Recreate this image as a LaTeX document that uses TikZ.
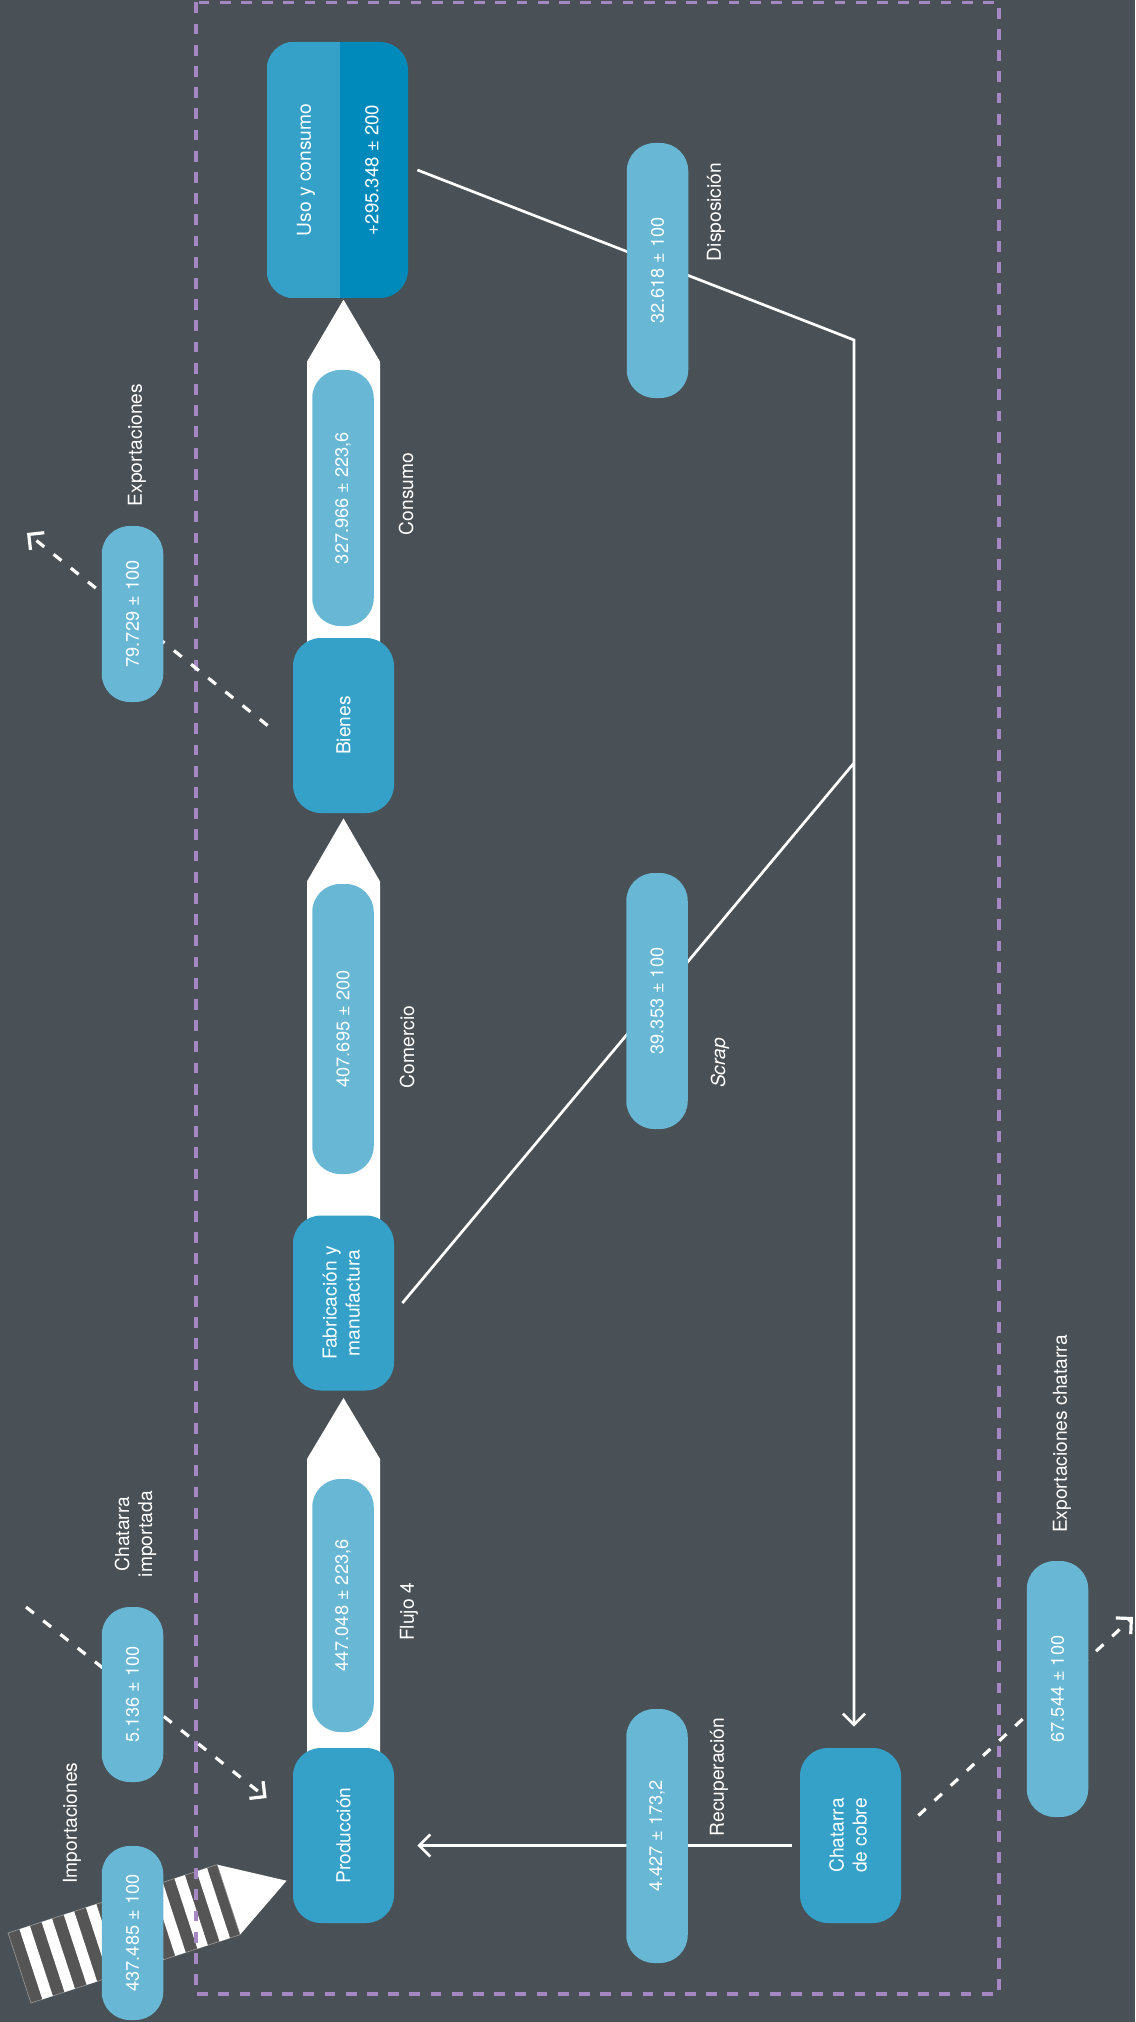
\documentclass[tikz,border=0pt]{standalone}
\usepackage{fontspec}
\setmainfont{TeX Gyre Heros}
\usetikzlibrary{arrows.meta}
\pgfdeclarelayer{bg}
\pgfsetlayers{bg,main}
\definecolor{slate}{RGB}{74,81,86}
\definecolor{boxblue}{RGB}{53,161,200}
\definecolor{deepblue}{RGB}{0,138,187}
\definecolor{pillblue}{RGB}{104,183,213}
\definecolor{lilac}{RGB}{165,135,195}
\definecolor{stripegray}{RGB}{85,85,85}

\begin{document}
\begin{tikzpicture}[x=0.5pt, y=-0.5pt,
        stage/.style={rectangle, rounded corners=14pt, fill=boxblue, text=white, inner sep=0pt,
            minimum width=50.5pt, minimum height=87.5pt, font={\fontsize{9.6}{11.5}\selectfont}},
        qty/.style={rectangle, rounded corners=14pt, fill=pillblue, text=white, inner sep=0pt,
            minimum width=30.75pt, font={\fontsize{9.1}{11}\selectfont}},
        lbl/.style={text=white, inner sep=0pt, font={\fontsize{9.6}{11.5}\selectfont}},
        flow/.style={white, line width=1.35pt},
        dflow/.style={white, line width=1.6pt, dash pattern=on 5pt off 6pt},
        flowhead/.style={-{Straight Barb[length=5.5pt, width=11pt]}}
    ]
        \useasboundingbox (0,0) rectangle (1135,2022);

        % stages
        \node[stage] (prod) at (343.5,1835.5) {\rotatebox{90}{Producción}};
        \node[stage] (fab) at (343.5,1303) {\rotatebox{90}{\begin{tabular}{@{}c@{}}Fabricación y\\manufactura\end{tabular}}};
        \node[stage] (bienes) at (343.5,725.5) {\rotatebox{90}{Bienes}};
        \node[stage, fill=deepblue, minimum width=70.5pt, minimum height=128pt] (uso) at (337.5,170) {};
        \begin{scope}
            \clip[rounded corners=14pt] (uso.south west) rectangle (uso.north east);
            \fill[boxblue] (uso.south west) rectangle ([xshift=1.25pt]uso.north);
        \end{scope}
        \node[lbl] (usoname) at (306,170) {\rotatebox{90}{Uso y consumo}};
        \node[lbl, font={\fontsize{9.3}{11}\selectfont}] (usoval) at (372,170) {\rotatebox{90}{+295.348 ± 200}};
        \node[stage] (chat) at (850.5,1835.5) {\rotatebox{90}{\begin{tabular}{@{}c@{}}Chatarra\\de cobre\end{tabular}}};

        % quantities
        \node[qty, minimum height=87pt] (imp) at (132.5,1933) {\rotatebox{90}{437.485 ± 100}};
        \node[qty, minimum height=87.5pt] (impchat) at (132.5,1694.5) {\rotatebox{90}{5.136 ± 100}};
        \node[qty, minimum height=88pt] (exp) at (132.5,614) {\rotatebox{90}{79.729 ± 100}};
        \node[qty, minimum height=126.5pt] (flujo) at (343,1605.5) {\rotatebox{90}{447.048 ± 223,6}};
        \node[qty, minimum height=145pt] (comercio) at (343,1029) {\rotatebox{90}{407.695 ± 200}};
        \node[qty, minimum height=128pt] (consumo) at (343,498) {\rotatebox{90}{327.966 ± 223,6}};
        \node[qty, minimum height=127.5pt] (disp) at (657.5,270.5) {\rotatebox{90}{32.618 ± 100}};
        \node[qty, minimum height=128pt] (scrap) at (657,1001) {\rotatebox{90}{39.353 ± 100}};
        \node[qty, minimum height=127pt] (recup) at (657,1836) {\rotatebox{90}{4.427 ± 173,2}};
        \node[qty, minimum height=128pt] (expchat) at (1057.5,1689) {\rotatebox{90}{67.544 ± 100}};

        % labels
        \node[lbl] (limp) at (72,1823) {\rotatebox{90}{Importaciones}};
        \node[lbl] (limpchat) at (136,1534) {\rotatebox{90}{\begin{tabular}{@{}c@{}}Chatarra\\importada\end{tabular}}};
        \node[lbl] (lexp) at (137,445) {\rotatebox{90}{Exportaciones}};
        \node[lbl] (lflujo) at (409,1612) {\rotatebox{90}{Flujo 4}};
        \node[lbl] (lcomercio) at (407,1047) {\rotatebox{90}{Comercio}};
        \node[lbl] (lconsumo) at (406,494) {\rotatebox{90}{Consumo}};
        \node[lbl] (ldisp) at (716,212) {\rotatebox{90}{Disposición}};
        \node[lbl] (lscrap) at (720,1063) {\rotatebox{90}{\textit{Scrap}}};
        \node[lbl] (lrecup) at (719,1777) {\rotatebox{90}{Recuperación}};
        \node[lbl] (lexpchat) at (1062,1434) {\rotatebox{90}{Exportaciones chatarra}};

        \coordinate (jdisp) at (854,340);
        \coordinate (jscrap) at (854,763);
        \coordinate (expend) at (27,533);
        \coordinate (impstart) at (26,1607);
        \coordinate (expchatend) at (1133,1617);

        \begin{pgfonlayer}{bg}
            \fill[slate] (0,0) rectangle (1135,2022);
            % main flow arrows
            \fill[white] ([xshift=-18.25pt]prod.center) -- ([xshift=-18.25pt,yshift=-34pt]fab.south) -- ([yshift=-3.5pt]fab.south)
                -- ([xshift=18.25pt,yshift=-34pt]fab.south) -- ([xshift=18.25pt]prod.center) -- cycle;
            \fill[white] ([xshift=-18.25pt]fab.center) -- ([xshift=-18.25pt,yshift=-34pt]bienes.south) -- ([yshift=-2.5pt]bienes.south)
                -- ([xshift=18.25pt,yshift=-34pt]bienes.south) -- ([xshift=18.25pt]fab.center) -- cycle;
            \fill[white] ([xshift=-18.25pt]bienes.center) -- ([xshift=-18.25pt,yshift=138pt]bienes.north) -- ([yshift=169pt]bienes.north)
                -- ([xshift=18.25pt,yshift=138pt]bienes.north) -- ([xshift=18.25pt]bienes.center) -- cycle;
            % striped import arrow
            \begin{scope}[shift={(19.5,1968)}, rotate=18.1]
                \fill[white] (220,-36.85) -- (281,0) -- (220,36.85) -- cycle;
                \filldraw[fill=stripegray, draw=gray!80!white, line width=0.3pt] (0,-36.85) rectangle (220,36.85);
                \foreach \k in {0,...,8}
                    \fill[white] ({12+23.3*\k},-36.85) rectangle ++(11,73.7);
            \end{scope}
            % system boundary
            \draw[lilac, line width=1.65pt, dash pattern=on 5.4pt off 5.2pt] (196,2.5) rectangle (999,1994);
            % connectors
            \draw[flow, flowhead] ([xshift=4.5pt]uso.east) -- (jdisp) -- ([yshift=10.5pt]chat.north -| jdisp);
            \draw[flow] ([xshift=4pt]fab.east) -- (jscrap);
            \draw[flow, flowhead] ([xshift=-4pt,yshift=-5pt]chat.west) -- ([xshift=11.5pt,yshift=-5pt]prod.east);
            \draw[dflow, flowhead] ([xshift=-12.5pt]bienes.west) -- (expend);
            \draw[dflow, flowhead] (impstart) -- ([shift={(-13pt,18.75pt)}]prod.west);
            \draw[dflow, flowhead] ([shift={(8.5pt,10pt)}]chat.east) -- (expchatend);
        \end{pgfonlayer}
    \end{tikzpicture}
\end{document}
